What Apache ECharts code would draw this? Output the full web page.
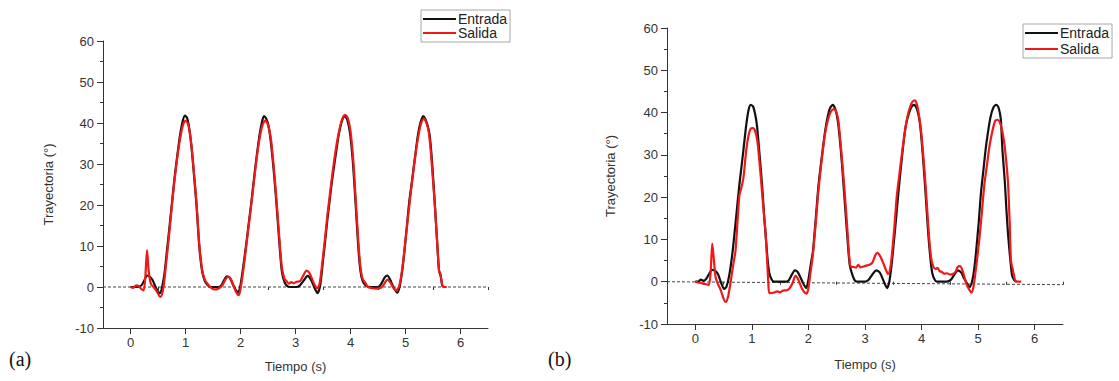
<!DOCTYPE html>
<html>
<head>
<meta charset="utf-8">
<script src="https://cdn.jsdelivr.net/npm/echarts@6/dist/echarts.min.js"></script>
<style>
  html, body { margin: 0; padding: 0; background: #fff; }
  #chart { width: 1119px; height: 381px; }
</style>
</head>
<body>
<div id="chart"></div>
<script>
// Joint trajectory (degrees) versus time (s): input ("Entrada") and output ("Salida")
// (a) first trial, (b) second trial. Points are [time, angle].
const entradaA = [[0,0],[0.1,0],[0.15,0.1],[0.2,0.4],[0.25,1.6],[0.3,2.8],[0.35,2.5],[0.4,1.7],[0.45,0.2],[0.5,-1.1],[0.54,-1.5],[0.58,0.3],[0.62,3.5],[0.66,8.5],[0.7,13.5],[0.75,20],[0.8,26.5],[0.85,32],[0.9,37],[0.95,40.5],[0.99,41.8],[1.03,41.2],[1.07,38.5],[1.11,34],[1.15,28],[1.2,20],[1.25,10],[1.3,4],[1.35,1.5],[1.4,0.5],[1.45,0],[1.6,0],[1.65,0.4],[1.7,1.6],[1.75,2.6],[1.8,2.3],[1.85,1],[1.9,-0.4],[1.96,-1.3],[2.0,0.5],[2.05,5],[2.1,10],[2.15,15.5],[2.2,21],[2.25,27],[2.3,32.5],[2.35,37.4],[2.4,40.8],[2.43,41.7],[2.47,41],[2.51,39.3],[2.55,35.5],[2.6,29],[2.65,21],[2.7,12],[2.75,4],[2.8,1.2],[2.85,0.2],[2.9,0],[3.02,0],[3.08,0.4],[3.15,1.6],[3.22,2.7],[3.28,1.8],[3.34,0],[3.4,-1.5],[3.45,0.5],[3.5,6.5],[3.53,10],[3.58,16.5],[3.62,21],[3.66,25.5],[3.7,29.3],[3.75,34],[3.79,37.4],[3.84,40.3],[3.89,41.7],[3.94,40.8],[3.99,37.6],[4.04,31],[4.09,21],[4.14,10],[4.18,4],[4.22,1.5],[4.28,0.3],[4.35,0],[4.5,0],[4.56,0.8],[4.62,2.3],[4.67,2.8],[4.72,1.8],[4.78,0],[4.85,-1.4],[4.9,0.5],[4.95,5],[4.99,10],[5.03,15.5],[5.07,21],[5.11,25],[5.15,29.3],[5.19,33.5],[5.23,37.4],[5.27,40],[5.32,41.7],[5.36,41],[5.4,39.5],[5.44,37],[5.48,31],[5.53,21],[5.58,10],[5.61,4],[5.64,2.6],[5.67,0.3],[5.7,0]];

const salidaA = [[0,0],[0.05,-0.2],[0.1,0.4],[0.15,0.2],[0.2,-0.5],[0.24,-0.8],[0.27,2.5],[0.3,9],[0.33,4],[0.37,0.8],[0.42,0],[0.47,-0.9],[0.52,-2.1],[0.55,-2.4],[0.6,0],[0.65,6],[0.7,12.5],[0.75,19.5],[0.8,26],[0.85,31.5],[0.9,36],[0.95,39.3],[1.0,40.5],[1.04,40],[1.08,37.5],[1.12,33],[1.16,27],[1.2,20.5],[1.25,10.5],[1.3,4.5],[1.35,1.8],[1.4,0.8],[1.45,0],[1.5,-0.5],[1.55,-0.6],[1.62,-0.2],[1.68,0.6],[1.73,1.9],[1.78,2.5],[1.83,1.8],[1.88,0],[1.93,-1.5],[1.97,-2.0],[2.0,-0.5],[2.05,4],[2.1,9.5],[2.15,15],[2.2,20.5],[2.25,26.5],[2.3,32],[2.35,36.5],[2.4,39.5],[2.45,40.6],[2.5,39.5],[2.55,36.5],[2.6,30],[2.65,22],[2.7,13],[2.75,5],[2.8,2],[2.84,1.4],[2.88,0.8],[2.92,1.2],[2.97,0.9],[3.02,1.3],[3.08,1.4],[3.13,2.5],[3.2,4],[3.25,3.5],[3.3,2],[3.35,0.5],[3.4,-0.3],[3.44,1],[3.48,5],[3.53,11],[3.58,17.5],[3.62,22],[3.66,26.5],[3.7,30.5],[3.75,35],[3.8,38.5],[3.85,41],[3.9,42],[3.95,41.2],[4.0,38],[4.05,31],[4.09,22.5],[4.14,11.5],[4.18,5],[4.22,2],[4.27,1],[4.32,0],[4.4,-0.3],[4.48,-0.4],[4.55,-0.2],[4.6,0.5],[4.67,1.8],[4.72,1.2],[4.78,-0.2],[4.83,-0.8],[4.88,0],[4.92,2.5],[4.96,6.5],[5.0,11.5],[5.05,17.5],[5.1,23.5],[5.15,29],[5.2,34],[5.25,38],[5.3,40.5],[5.34,41],[5.38,40],[5.42,38],[5.46,33],[5.5,26],[5.54,18.5],[5.58,10],[5.61,4],[5.64,3],[5.67,0.3],[5.7,0],[5.75,0]];

const entradaB = [[0,0],[0.05,0],[0.1,0.5],[0.15,0.2],[0.2,0.8],[0.25,2],[0.3,2.8],[0.35,2.6],[0.4,1.8],[0.45,0],[0.51,-1.7],[0.55,-1.2],[0.6,1.5],[0.66,7.2],[0.72,15],[0.78,23],[0.85,31],[0.9,37],[0.94,40.5],[0.98,41.8],[1.02,41.5],[1.06,39.5],[1.09,37],[1.13,31],[1.18,23],[1.22,15],[1.25,10],[1.28,5],[1.31,2],[1.35,0.5],[1.39,0],[1.6,0],[1.65,0.3],[1.7,1.5],[1.76,2.7],[1.81,2.3],[1.86,1],[1.91,-0.5],[1.96,-1.5],[2.0,0.5],[2.04,4],[2.08,7.2],[2.13,15],[2.18,23],[2.25,31],[2.3,36],[2.34,39],[2.38,41],[2.43,41.8],[2.47,41],[2.5,39.5],[2.53,37],[2.58,30],[2.62,23],[2.68,12],[2.73,4],[2.78,1.5],[2.82,0.3],[2.87,0],[3.0,0],[3.06,0.4],[3.12,1.5],[3.2,2.7],[3.26,2.2],[3.31,0.8],[3.35,-0.5],[3.39,-1.5],[3.43,0],[3.47,4],[3.5,8],[3.55,15],[3.59,21],[3.65,29],[3.7,35],[3.73,37.5],[3.78,40],[3.83,41.5],[3.87,41.8],[3.92,40.8],[3.97,37.5],[4.01,32],[4.06,23],[4.09,17],[4.12,11],[4.16,5],[4.19,2],[4.23,0.5],[4.27,0],[4.45,0],[4.52,0.5],[4.58,1.7],[4.64,2.7],[4.7,2.2],[4.75,0.8],[4.8,-0.3],[4.85,-1.3],[4.9,0.5],[4.94,4],[4.97,8],[5.01,14],[5.05,21],[5.09,26],[5.13,31],[5.17,35],[5.22,39],[5.27,41.2],[5.32,41.8],[5.36,41.2],[5.4,38.5],[5.43,31],[5.47,24],[5.5,17],[5.53,11],[5.57,5],[5.6,1.5],[5.64,0.3],[5.68,0]];

const salidaB = [[0,0],[0.05,-0.2],[0.1,-0.3],[0.15,-0.5],[0.2,-0.6],[0.24,-0.8],[0.27,2],[0.3,9],[0.33,5],[0.36,1],[0.4,-0.5],[0.45,-2],[0.5,-4],[0.54,-4.8],[0.58,-3.5],[0.62,-0.5],[0.67,4],[0.71,7.2],[0.75,15],[0.78,20.5],[0.81,22],[0.85,24.5],[0.9,31],[0.94,34.5],[0.98,36.2],[1.02,36.3],[1.06,35.5],[1.1,33],[1.15,26],[1.2,18],[1.24,12],[1.27,5],[1.29,0],[1.31,-2.7],[1.38,-2.6],[1.45,-2.3],[1.5,-2.5],[1.55,-2.1],[1.62,-2.0],[1.67,-1.5],[1.72,-0.3],[1.77,1.4],[1.82,0.5],[1.88,-1.5],[1.93,-2.5],[1.97,-2.8],[2.0,-1.5],[2.04,2.5],[2.08,6.5],[2.13,14],[2.18,22],[2.25,30.5],[2.3,35.5],[2.35,38.5],[2.4,40.3],[2.45,40.8],[2.49,40.2],[2.53,38],[2.58,31],[2.63,23],[2.68,14],[2.72,6],[2.75,3.5],[2.8,3.5],[2.84,3.3],[2.88,4],[2.92,3.4],[2.97,3.6],[3.02,3.8],[3.08,4.0],[3.13,4.5],[3.18,6.2],[3.22,6.8],[3.27,6],[3.32,4.5],[3.37,2.8],[3.41,1.8],[3.45,3.5],[3.48,7],[3.52,13],[3.56,20],[3.6,24.5],[3.65,30],[3.7,35],[3.75,39],[3.8,41.5],[3.84,42.6],[3.88,42.9],[3.92,41.8],[3.96,39],[4.0,34.5],[4.05,26.5],[4.09,19],[4.13,11],[4.17,5.5],[4.21,3.5],[4.25,3.0],[4.28,3.3],[4.32,2.5],[4.36,2.3],[4.4,1.9],[4.45,2.0],[4.5,1.7],[4.55,1.8],[4.6,2.3],[4.64,3.5],[4.68,3.7],[4.72,2.8],[4.76,1.0],[4.8,-0.8],[4.84,-1.8],[4.88,-2.6],[4.92,-1],[4.96,3],[5.0,7.5],[5.05,14],[5.11,23],[5.15,27],[5.2,32],[5.25,35.5],[5.3,38],[5.34,38.3],[5.38,37.8],[5.42,36],[5.46,33],[5.5,28],[5.53,23],[5.56,13],[5.58,5],[5.61,3],[5.65,0.5],[5.68,0],[5.76,0]];

// Dashed reference lines at zero
const zeroLineA = [[-0.5,0],[6.5,0]];
const zeroLineB = [[-0.5,0],[6.5,-0.7]];

// Axis ticks
const timeTicks = [0,1,2,3,4,5,6];
const timeHalfTicks = [0.5,1.5,2.5,3.5,4.5,5.5,6.5];
const timeRange = [-0.5, 6.5];
const angleRange = [-10, 60];

const FONT = '"Liberation Sans", Arial, sans-serif';
const AXIS_COLOR = '#333';
const BLACK = '#111111';
const RED = '#f01818';

function mainXAxis(gridIndex, nameGap) {
  return {
    type: 'value', gridIndex, min: timeRange[0], max: timeRange[1],
    name: 'Tiempo (s)', nameLocation: 'middle', nameGap,
    nameTextStyle: { fontFamily: FONT, fontSize: 13, color: AXIS_COLOR },
    axisLine: { show: true, onZero: false, lineStyle: { color: AXIS_COLOR, width: 1 } },
    axisTick: { show: true, customValues: timeTicks, length: 6, lineStyle: { color: AXIS_COLOR } },
    axisLabel: { customValues: timeTicks, margin: 8, fontFamily: FONT, fontSize: 13, color: AXIS_COLOR },
    splitLine: { show: false }
  };
}
function halfXAxis(gridIndex) {
  return {
    type: 'value', gridIndex, min: timeRange[0], max: timeRange[1], position: 'bottom',
    axisLine: { show: false },
    axisTick: { show: true, customValues: timeHalfTicks, length: 3, lineStyle: { color: AXIS_COLOR } },
    axisLabel: { show: false },
    splitLine: { show: false }
  };
}
function mainYAxis(gridIndex, nameGap) {
  return {
    type: 'value', gridIndex, min: angleRange[0], max: angleRange[1], interval: 10,
    name: 'Trayectoria (°)', nameLocation: 'middle', nameGap,
    nameTextStyle: { fontFamily: FONT, fontSize: 13, color: AXIS_COLOR },
    axisLine: { show: true, onZero: false, lineStyle: { color: AXIS_COLOR, width: 1 } },
    axisTick: { show: true, length: 6, lineStyle: { color: AXIS_COLOR } },
    minorTick: { show: true, splitNumber: 2, length: 3, lineStyle: { color: AXIS_COLOR } },
    axisLabel: { margin: 9, fontFamily: FONT, fontSize: 13, color: AXIS_COLOR },
    splitLine: { show: false }
  };
}
function traceSeries(name, data, color, xIdx, yIdx, z) {
  return {
    type: 'line', name, data, xAxisIndex: xIdx, yAxisIndex: yIdx,
    showSymbol: false, symbol: 'none', smooth: 0.25, z,
    lineStyle: { color, width: 2.2 }, itemStyle: { color },
    emphasis: { disabled: true }
  };
}
function zeroSeries(data, xIdx, yIdx) {
  return {
    type: 'line', data, xAxisIndex: xIdx, yAxisIndex: yIdx,
    showSymbol: false, symbol: 'none', z: 1, silent: true,
    lineStyle: { color: '#444', width: 1, type: [3, 2] }
  };
}
function legendAt(left, top, gap) {
  return {
    data: ['Entrada', 'Salida'], orient: 'vertical', left, top,
    icon: 'rect', itemWidth: 33, itemHeight: 2, itemGap: gap,
    padding: [2, 3, 2, 2], borderColor: '#a8a8a8', borderWidth: 1,
    textStyle: { fontFamily: FONT, fontSize: 14, color: '#222', padding: [0, 0, 0, -3] },
    selectedMode: false
  };
}

const chart = echarts.init(document.getElementById('chart'), null, { renderer: 'svg' });
chart.setOption({
  animation: false,
  backgroundColor: '#fff',
  grid: [
    { left: 103, top: 41, width: 385, height: 287 },
    { left: 667, top: 28, width: 396, height: 296 }
  ],
  xAxis: [mainXAxis(0, 32), halfXAxis(0), mainXAxis(1, 34), halfXAxis(1)],
  yAxis: [mainYAxis(0, 48), mainYAxis(1, 50)],
  legend: [legendAt(421, 10, 0), legendAt(1023, 24, 2)],
  series: [
    zeroSeries(zeroLineA, 0, 0),
    traceSeries('Entrada', entradaA, BLACK, 0, 0, 2),
    traceSeries('Salida', salidaA, RED, 0, 0, 3),
    zeroSeries(zeroLineB, 2, 1),
    traceSeries('Entrada', entradaB, BLACK, 2, 1, 2),
    traceSeries('Salida', salidaB, RED, 2, 1, 3)
  ],
  graphic: [
    { type: 'text', left: 9, top: 349, style: { text: '(a)', font: '20px "Liberation Serif", "Times New Roman", serif', fill: '#111' } },
    { type: 'text', left: 548, top: 349, style: { text: '(b)', font: '20px "Liberation Serif", "Times New Roman", serif', fill: '#111' } }
  ]
});
</script>
</body>
</html>
